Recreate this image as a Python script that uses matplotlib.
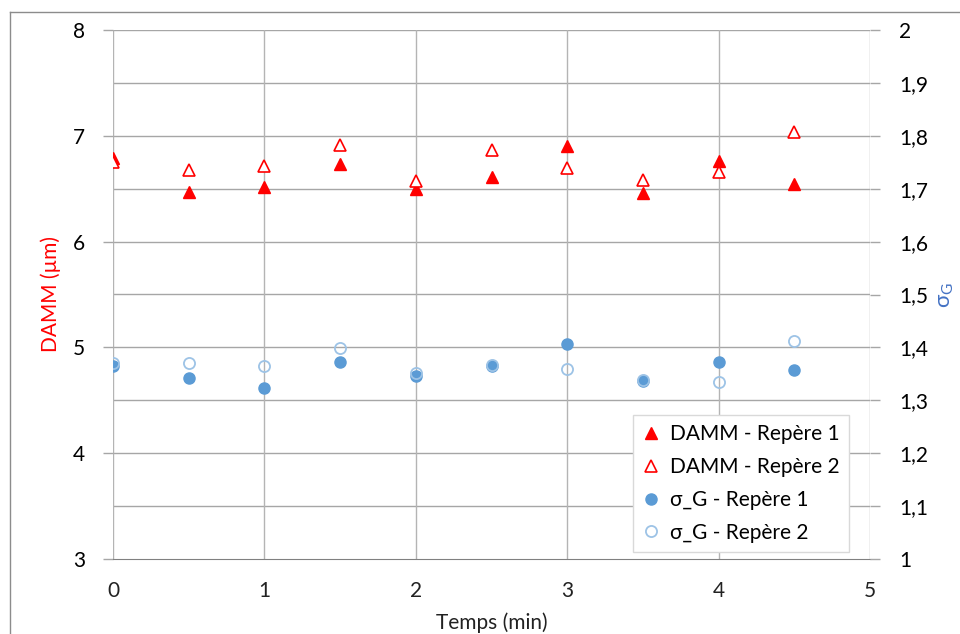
import matplotlib
matplotlib.use("Agg")
import matplotlib.pyplot as plt
from matplotlib.lines import Line2D

plt.rcParams['font.family'] = ['Lato', 'DejaVu Sans']

temps = [0, 0.5, 1, 1.5, 2, 2.5, 3, 3.5, 4, 4.5]
damm_rep1 = [6.79, 6.47, 6.52, 6.73, 6.50, 6.61, 6.90, 6.46, 6.76, 6.54]
damm_rep2 = [6.75, 6.68, 6.71, 6.91, 6.57, 6.87, 6.70, 6.58, 6.66, 7.04]
sigma_rep1 = [1.365, 1.343, 1.324, 1.372, 1.346, 1.365, 1.406, 1.336, 1.372, 1.357]
sigma_rep2 = [1.370, 1.371, 1.365, 1.399, 1.351, 1.367, 1.359, 1.339, 1.335, 1.413]

x_ticks = [0, 1, 2, 3, 4, 5]
left_ticks = [3, 4, 5, 6, 7, 8]
right_ticks = [1.0, 1.1, 1.2, 1.3, 1.4, 1.5, 1.6, 1.7, 1.8, 1.9, 2.0]
right_labels = ["1", "1,1", "1,2", "1,3", "1,4", "1,5", "1,6", "1,7", "1,8", "1,9", "2"]
legend_labels = ["DAMM - Repère 1", "DAMM - Repère 2", "σ_G - Repère 1", "σ_G - Repère 2"]

RED = "#FF0000"
BLUE = "#5B9BD5"
LBLUE = "#9DC3E6"
GRID = "#A6A6A6"
FS = 15

fig = plt.figure(figsize=(9.6, 6.34), dpi=100)
ax = fig.add_axes([113/960, 1-559/634, 757/960, 529/634])
ax2 = ax.twinx()

# figure border (left & top)
fig.add_artist(Line2D([10/960, 10/960], [0, 1-12/634], color="#8C8C8C", lw=1.0, transform=fig.transFigure))
fig.add_artist(Line2D([10/960, 1], [1-12/634, 1-12/634], color="#8C8C8C", lw=1.0, transform=fig.transFigure))

ax.set_xlim(0, 5)
ax.set_ylim(3, 8)
ax2.set_ylim(1, 2)

# grid lines
for yv in [3.5, 4, 4.5, 5, 5.5, 6, 6.5, 7, 7.5, 8]:
    ax.axhline(yv, color=GRID, lw=1.0, zorder=0)
for xv in x_ticks:
    ax.axvline(xv, color="#B4B4B4", lw=1.0, zorder=0)

for sp in ["left", "right", "top"]:
    ax.spines[sp].set_visible(False)
    ax2.spines[sp].set_visible(False)
ax.spines["bottom"].set_color("#808080")
ax2.spines["bottom"].set_visible(False)

ax.set_xticks(x_ticks)
ax.set_xticklabels([str(v) for v in x_ticks])
ax.set_yticks(left_ticks)
ax.set_yticklabels([str(v) for v in left_ticks])
ax.tick_params(axis="x", length=0, pad=16, labelsize=FS, labelcolor="#222222")
ax.tick_params(axis="y", length=7, width=1, color=GRID, pad=13, labelsize=FS, labelcolor="#000000")
ax2.set_yticks(right_ticks)
ax2.set_yticklabels(right_labels)
ax2.tick_params(axis="y", length=7, width=1, color=GRID, pad=14, labelsize=FS, labelcolor="#000000")

ax.plot(temps, damm_rep1, linestyle="none", marker="^", ms=9, mfc=RED, mec=RED, zorder=3)
ax.plot(temps, damm_rep2, linestyle="none", marker="^", ms=9, mfc="white", mec=RED, mew=1.2, zorder=3)
ax2.plot(temps, sigma_rep1, linestyle="none", marker="o", ms=8, mfc=BLUE, mec=BLUE, zorder=3)
ax2.plot(temps, sigma_rep2, linestyle="none", marker="o", ms=8, mfc="none", mec=LBLUE, mew=1.3, zorder=3)

ax.set_xlabel("Temps (min)", fontsize=FS, color="#222222", labelpad=8)
ax.set_ylabel("DAMM (µm)", fontsize=FS, color=RED, labelpad=9)
ax2.set_ylabel(r"σ$_\mathregular{G}$", fontsize=FS + 1, color="#4472C4", labelpad=6)

handles = [
    Line2D([], [], linestyle="none", marker="^", ms=9, mfc=RED, mec=RED),
    Line2D([], [], linestyle="none", marker="^", ms=9, mfc="white", mec=RED, mew=1.2),
    Line2D([], [], linestyle="none", marker="o", ms=8, mfc=BLUE, mec=BLUE),
    Line2D([], [], linestyle="none", marker="o", ms=8, mfc="none", mec=LBLUE, mew=1.3),
]
leg = ax2.legend(handles, legend_labels, loc="lower right", bbox_to_anchor=(0.972, 0.013),
                 fontsize=FS, frameon=True, fancybox=False, framealpha=1,
                 edgecolor="#D9D9D9", handlelength=0.8, handletextpad=0.5,
                 labelspacing=0.62, borderpad=0.45, borderaxespad=0)
leg.get_frame().set_linewidth(1.0)

fig.savefig("out.png", dpi=100, facecolor="white")
